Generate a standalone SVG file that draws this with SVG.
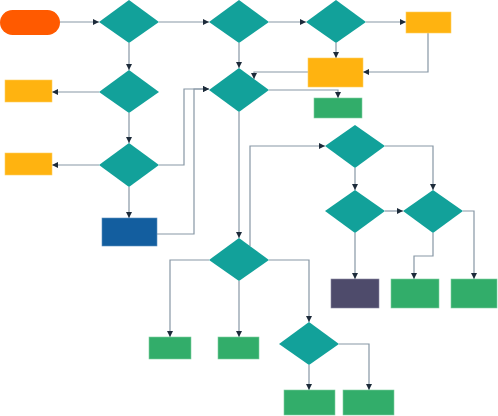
<svg xmlns="http://www.w3.org/2000/svg" width="498" height="416" viewBox="0 0 498 416">
<style>
.d{fill:#12A19A}
.o{fill:#FFB310;stroke:#FFD060;stroke-width:0.6}
.g{fill:#32AD6A;stroke:#7fd0a0;stroke-width:0.6}
.c{fill:none;stroke:#8797a5;stroke-width:1.2}
</style>
<defs>
<marker id="a" markerUnits="userSpaceOnUse" markerWidth="6" markerHeight="6" viewBox="0 0 6 6" refX="6" refY="3" orient="auto">
<path d="M0,0 L6,3 L0,6 Z" fill="#1d2b3a"/>
</marker>
</defs>
<g id="connectors">
<path class="c" marker-end="url(#a)" d="M60,22 H99"/>
<path class="c" marker-end="url(#a)" d="M159,22 H209"/>
<path class="c" marker-end="url(#a)" d="M269,22 H306"/>
<path class="c" marker-end="url(#a)" d="M366,22 H406"/>
<path class="c" marker-end="url(#a)" d="M129,43 V70"/>
<path class="c" marker-end="url(#a)" d="M99,92 H52"/>
<path class="c" marker-end="url(#a)" d="M129,113 V143"/>
<path class="c" marker-end="url(#a)" d="M99,165 H52"/>
<path class="c" marker-end="url(#a)" d="M129,187 V218"/>
<path class="c" marker-end="url(#a)" d="M159,165 H184 V89 H209"/>
<path class="c" marker-end="url(#a)" d="M157,234 H194 V89 H209"/>
<path class="c" marker-end="url(#a)" d="M239,43 V68"/>
<path class="c" marker-end="url(#a)" d="M336,43 V58"/>
<path class="c" marker-end="url(#a)" d="M428,33 V72 H363"/>
<path class="c" marker-end="url(#a)" d="M308,72 H254 V79"/>
<path class="c" marker-end="url(#a)" d="M269,90 H338 V98"/>
<path class="c" marker-end="url(#a)" d="M239,112 V238"/>
<path class="c" marker-end="url(#a)" d="M250,246 V146 H325"/>
<path class="c" marker-end="url(#a)" d="M385,146 H433 V190"/>
<path class="c" marker-end="url(#a)" d="M355,168 V190"/>
<path class="c" marker-end="url(#a)" d="M385,211 H403"/>
<path class="c" marker-end="url(#a)" d="M355,233 V279"/>
<path class="c" marker-end="url(#a)" d="M433,233 V256 H414 V279"/>
<path class="c" marker-end="url(#a)" d="M463,211 H474 V279"/>
<path class="c" marker-end="url(#a)" d="M209,260 H170 V337"/>
<path class="c" marker-end="url(#a)" d="M239,281 V337"/>
<path class="c" marker-end="url(#a)" d="M269,260 H309 V322"/>
<path class="c" marker-end="url(#a)" d="M309,365 V390"/>
<path class="c" marker-end="url(#a)" d="M339,344 H369 V390"/>
</g>
<g id="start"><rect x="0" y="10" width="60" height="25" rx="12.5" fill="#FF5A00"/></g>
<g id="d1"><polygon class="d" points="129,0 159,22 129,43 99,22"/></g>
<g id="d2"><polygon class="d" points="239,0 269,22 239,43 209,22"/></g>
<g id="d3"><polygon class="d" points="336,0 366,22 336,43 306,22"/></g>
<g id="o1"><rect class="o" x="406" y="12" width="45" height="21"/></g>
<g id="o2"><rect class="o" x="308" y="58" width="55" height="29"/></g>
<g id="g1"><rect class="g" x="314" y="98" width="48" height="20"/></g>
<g id="d4"><polygon class="d" points="129,70 159,92 129,113 99,92"/></g>
<g id="d5"><polygon class="d" points="239,68 269,90 239,112 209,90"/></g>
<g id="o3"><rect class="o" x="5" y="80" width="47" height="22"/></g>
<g id="d6"><polygon class="d" points="129,143 159,165 129,187 99,165"/></g>
<g id="o4"><rect class="o" x="5" y="153" width="47" height="22"/></g>
<g id="b1"><rect x="102" y="218" width="55" height="28" fill="#135E9F" stroke="#5d8fc0" stroke-width="0.6"/></g>
<g id="d7"><polygon class="d" points="355,125 385,146 355,168 325,146"/></g>
<g id="d8"><polygon class="d" points="355,190 385,211 355,233 325,211"/></g>
<g id="d9"><polygon class="d" points="433,190 463,211 433,233 403,211"/></g>
<g id="p1"><rect x="331" y="279" width="48" height="29" fill="#4E4B6B" stroke="#8a88a0" stroke-width="0.6"/></g>
<g id="g2"><rect class="g" x="391" y="279" width="48" height="29"/></g>
<g id="g3"><rect class="g" x="451" y="279" width="46" height="29"/></g>
<g id="d10"><polygon class="d" points="239,238 269,260 239,281 209,260"/></g>
<g id="g4"><rect class="g" x="149" y="337" width="42" height="22"/></g>
<g id="g5"><rect class="g" x="218" y="337" width="41" height="22"/></g>
<g id="d11"><polygon class="d" points="309,322 339,344 309,365 279,344"/></g>
<g id="g6"><rect class="g" x="284" y="390" width="51" height="25"/></g>
<g id="g7"><rect class="g" x="343" y="390" width="51" height="25"/></g>
</svg>
